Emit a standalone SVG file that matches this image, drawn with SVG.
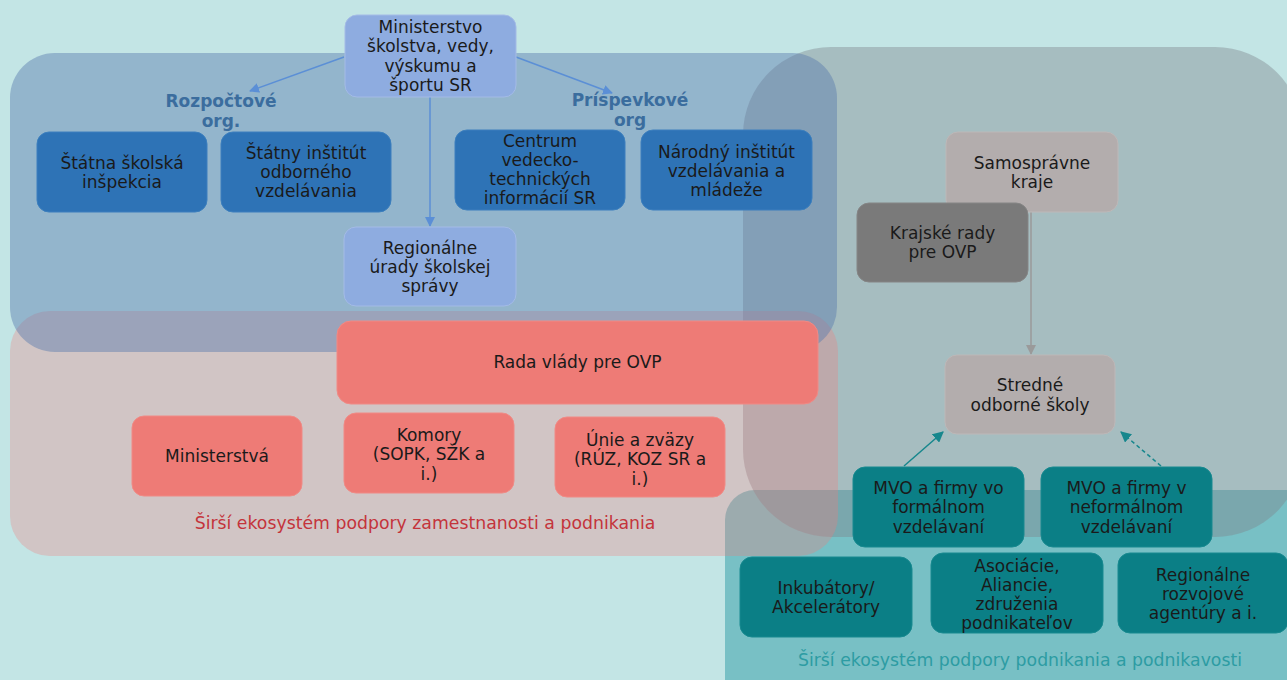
<svg xmlns="http://www.w3.org/2000/svg" width="1287" height="680" viewBox="0 0 1287 680">
<style>
text{font-family:"DejaVu Sans","Verdana",sans-serif;font-size:17px;fill:#1a1a1a;text-anchor:middle}
.lav{fill:#8eace0;stroke:#a4bbe6;stroke-width:1}
.dblue{fill:#2e73b6;stroke:#3c7fbe;stroke-width:1}
.red{fill:#ee7b76;stroke:#f08a85;stroke-width:1}
.gray{fill:#b3adad;stroke:#bdb8b8;stroke-width:1}
.dgray{fill:#7a7a7a;stroke:#858585;stroke-width:1}
.teal{fill:#0b7f86;stroke:#188a90;stroke-width:1}
.grp{font-weight:bold;fill:#3b6d9e}
.cap{font-size:17.3px}
.c-blue{stroke:#5b8fd6;stroke-width:1.5;fill:none}
.c-gray{stroke:#9a9a9a;stroke-width:1.5;fill:none}
.c-teal{stroke:#17878d;stroke-width:1.5;fill:none}
</style>
<defs>
<marker id="ab" viewBox="0 0 10 10" refX="9" refY="5" markerWidth="10" markerHeight="10" markerUnits="userSpaceOnUse" orient="auto"><path d="M0,0 L10,5 L0,10 z" fill="#5b8fd6"/></marker>
<marker id="ag" viewBox="0 0 10 10" refX="9" refY="5" markerWidth="10" markerHeight="10" markerUnits="userSpaceOnUse" orient="auto"><path d="M0,0 L10,5 L0,10 z" fill="#9a9a9a"/></marker>
<marker id="at" viewBox="0 0 10 10" refX="9" refY="5" markerWidth="11" markerHeight="11" markerUnits="userSpaceOnUse" orient="auto"><path d="M0,0 L10,5 L0,10 z" fill="#17878d"/></marker>
</defs>
<rect x="0" y="0" width="1287" height="680" fill="#c3e5e5"/>
<g id="regions">
<rect x="725" y="490" width="620" height="240" rx="30" fill="#3aa3ab" fill-opacity="0.55"/>
<rect x="743" y="47" width="560" height="490" rx="88" fill="#7e858c" fill-opacity="0.42"/>
<rect x="10" y="311" width="828" height="245" rx="40" fill="#f37a7a" fill-opacity="0.3"/>
<rect x="10" y="53" width="827" height="299" rx="45" fill="#5879ad" fill-opacity="0.45"/>
</g>
<g id="connectors">
<line class="c-blue" x1="344" y1="57" x2="250" y2="91" marker-end="url(#ab)"/>
<line class="c-blue" x1="516" y1="57" x2="612" y2="93" marker-end="url(#ab)"/>
<line class="c-blue" x1="430" y1="97" x2="430" y2="226" marker-end="url(#ab)"/>
<line class="c-gray" x1="1031" y1="212" x2="1031" y2="354" marker-end="url(#ag)"/>
<line class="c-teal" x1="904" y1="466" x2="943" y2="432" marker-end="url(#at)"/>
<line class="c-teal" x1="1161" y1="466" x2="1121" y2="432" stroke-dasharray="4 3" marker-end="url(#at)"/>
</g>
<g id="n-msvvs"><rect class="lav" x="345" y="15" width="171" height="82" rx="12"/><text x="430.5" y="33">Ministerstvo<tspan x="430.5" dy="19.3">školstva, vedy,</tspan><tspan x="430.5" dy="19.3">výskumu a</tspan><tspan x="430.5" dy="19.3">športu SR</tspan></text></g>
<g id="l-rozpoctove"><text class="grp" x="221" y="107">Rozpočtové<tspan x="221" dy="19.5">org.</tspan></text></g>
<g id="l-prispevkove"><text class="grp" x="630" y="106">Príspevkové<tspan x="630" dy="19.5">org</tspan></text></g>
<g id="n-ssi"><rect class="dblue" x="37" y="132" width="170" height="80" rx="12"/><text x="122" y="168.5">Štátna školská<tspan x="122" dy="19.3">inšpekcia</tspan></text></g>
<g id="n-siov"><rect class="dblue" x="221" y="132" width="170" height="80" rx="12"/><text x="306" y="158.5">Štátny inštitút<tspan x="306" dy="19.3">odborného</tspan><tspan x="306" dy="19.3">vzdelávania</tspan></text></g>
<g id="n-cvti"><rect class="dblue" x="455" y="130" width="170" height="80" rx="12"/><text x="540" y="146.5">Centrum<tspan x="540" dy="19.3">vedecko-</tspan><tspan x="540" dy="19.3">technických</tspan><tspan x="540" dy="19.3">informácií SR</tspan></text></g>
<g id="n-nivam"><rect class="dblue" x="641" y="130" width="171" height="80" rx="12"/><text x="726.5" y="157.5">Národný inštitút<tspan x="726.5" dy="19.3">vzdelávania a</tspan><tspan x="726.5" dy="19.3">mládeže</tspan></text></g>
<g id="n-rusk"><rect class="lav" x="344" y="227" width="172" height="79" rx="12"/><text x="430" y="253.5">Regionálne<tspan x="430" dy="19.3">úrady školskej</tspan><tspan x="430" dy="19.3">správy</tspan></text></g>
<g id="n-rada"><rect class="red" x="337" y="321" width="481" height="83" rx="14"/><text x="577.5" y="368">Rada vlády pre OVP</text></g>
<g id="n-ministerstva"><rect class="red" x="132" y="416" width="170" height="80" rx="12"/><text x="217" y="461.5">Ministerstvá</text></g>
<g id="n-komory"><rect class="red" x="344" y="413" width="170" height="80" rx="12"/><text x="429" y="440.5">Komory<tspan x="429" dy="19.5">(SOPK, SŽK a</tspan><tspan x="429" dy="19.5">i.)</tspan></text></g>
<g id="n-unie"><rect class="red" x="555" y="417" width="170" height="80" rx="12"/><text x="640" y="445.5">Únie a zväzy<tspan x="640" dy="19.5">(RÚZ, KOZ SR a</tspan><tspan x="640" dy="19.5">i.)</tspan></text></g>
<g id="l-zamestnanost"><text class="cap" x="425" y="529" style="fill:#c4343b">Širší ekosystém podpory zamestnanosti a podnikania</text></g>
<g id="n-samospravne"><rect class="gray" x="946" y="132" width="172" height="80" rx="12"/><text x="1032" y="168.5">Samosprávne<tspan x="1032" dy="19.5">kraje</tspan></text></g>
<g id="n-krajske"><rect class="dgray" x="857" y="203" width="171" height="79" rx="12"/><text x="942.5" y="238.5">Krajské rady<tspan x="942.5" dy="19.5">pre OVP</tspan></text></g>
<g id="n-sos"><rect class="gray" x="945" y="355" width="170" height="79" rx="12"/><text x="1030" y="391">Stredné<tspan x="1030" dy="19.5">odborné školy</tspan></text></g>
<g id="n-mvo-formal"><rect class="teal" x="853" y="467" width="171" height="80" rx="12"/><text x="938.5" y="493.5">MVO a firmy vo<tspan x="938.5" dy="19.5">formálnom</tspan><tspan x="938.5" dy="19.5">vzdelávaní</tspan></text></g>
<g id="n-mvo-neformal"><rect class="teal" x="1041" y="467" width="171" height="80" rx="12"/><text x="1126.5" y="493.5">MVO a firmy v<tspan x="1126.5" dy="19.5">neformálnom</tspan><tspan x="1126.5" dy="19.5">vzdelávaní</tspan></text></g>
<g id="n-inkubatory"><rect class="teal" x="740" y="557" width="172" height="80" rx="12"/><text x="826" y="593.5">Inkubátory/<tspan x="826" dy="19.5">Akcelerátory</tspan></text></g>
<g id="n-asociacie"><rect class="teal" x="931" y="553" width="172" height="80" rx="12"/><text x="1017" y="571.5">Asociácie,<tspan x="1017" dy="19">Aliancie,</tspan><tspan x="1017" dy="19">združenia</tspan><tspan x="1017" dy="19">podnikateľov</tspan></text></g>
<g id="n-rra"><rect class="teal" x="1118" y="553" width="170" height="80" rx="12"/><text x="1203" y="580.5">Regionálne<tspan x="1203" dy="19">rozvojové</tspan><tspan x="1203" dy="19">agentúry a i.</tspan></text></g>
<g id="l-podnikanie"><text class="cap" x="1020" y="666" style="fill:#2d9ca3">Širší ekosystém podpory podnikania a podnikavosti</text></g>
</svg>
